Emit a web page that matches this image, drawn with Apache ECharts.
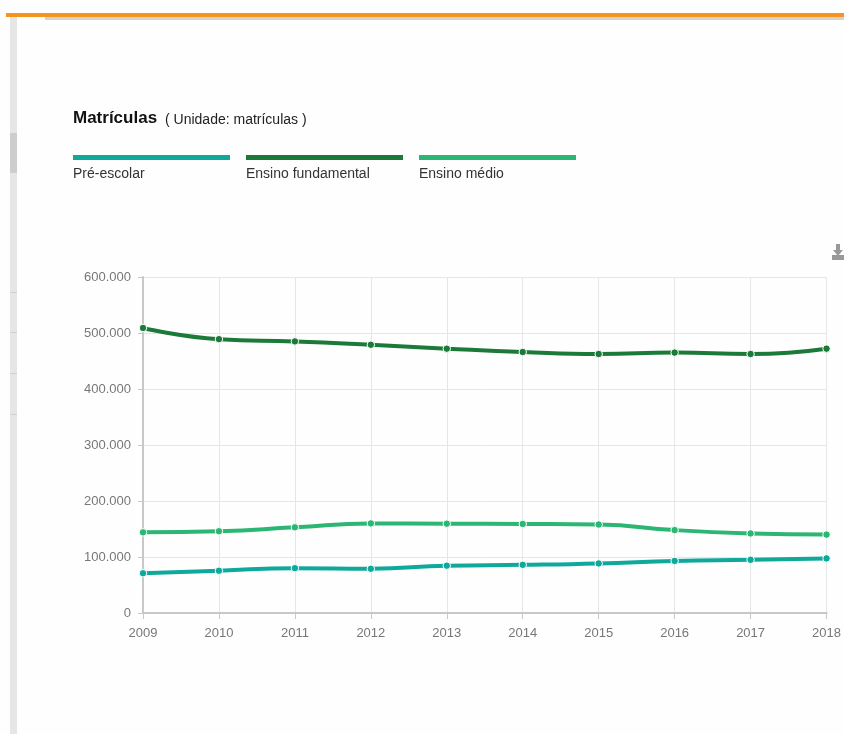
<!DOCTYPE html>
<html>
<head>
<meta charset="utf-8">
<script src="https://cdn.jsdelivr.net/npm/echarts@6/dist/echarts.min.js"></script>
<style>
html,body{margin:0;padding:0;background:#fefefe;}
#c{width:844px;height:734px;}
</style>
</head>
<body>
<div id="c"></div>
<script>
var years = ['2009','2010','2011','2012','2013','2014','2015','2016','2017','2018'];
var seriesNames = ['Pré-escolar','Ensino fundamental','Ensino médio'];
var seriesColors = ['#0fa99c','#1b7a3a','#2cb673'];
var preEscolar = [71000, 75500, 80000, 79000, 84500, 86000, 88500, 93000, 95000, 97500];
var fundamental = [509000, 489000, 485000, 479000, 472000, 466000, 462500, 465000, 462500, 472000];
var medio = [144000, 146000, 153000, 160000, 159500, 159000, 158000, 148000, 142000, 140000];
var titleText = 'Matrículas';
var unitText = '( Unidade: matrículas )';

var dataSets = [preEscolar, fundamental, medio];
var FONT = '"Liberation Sans", Arial, sans-serif';

function fmt(v){ return String(v).replace(/\B(?=(\d{3})+(?!\d))/g, '.'); }

var graphics = [
  {type:'rect', shape:{x:6,y:13,width:838,height:4}, style:{fill:'#f7941d'}, silent:true},
  {type:'rect', shape:{x:45,y:17,width:799,height:3}, style:{fill:'#d3d3d3'}, silent:true},
  {type:'rect', shape:{x:10,y:17,width:7,height:717}, style:{fill:'#e6e6e6'}, silent:true},
  {type:'rect', shape:{x:10,y:133,width:7,height:40}, style:{fill:'#cdcdcd'}, silent:true},
  {type:'rect', shape:{x:10,y:292,width:7,height:1}, style:{fill:'#d0d0d0'}, silent:true},
  {type:'rect', shape:{x:10,y:332,width:7,height:1}, style:{fill:'#d0d0d0'}, silent:true},
  {type:'rect', shape:{x:10,y:373,width:7,height:1}, style:{fill:'#d0d0d0'}, silent:true},
  {type:'rect', shape:{x:10,y:414,width:7,height:1}, style:{fill:'#d0d0d0'}, silent:true},
  {type:'text', left:73, top:110, style:{text:titleText, font:'bold 17px '+FONT, fill:'#111'}},
  {type:'text', left:165, top:113, style:{text:unitText, font:'14px '+FONT, fill:'#222'}},
  // download icon
  {type:'polygon', shape:{points:[[836,244],[840,244],[840,250],[843,250],[838,256],[833,250],[836,250]]}, style:{fill:'#999'}},
  {type:'rect', shape:{x:832,y:255,width:12,height:5}, style:{fill:'#999'}}
];
var legendX = [73, 246, 419];
for (var i = 0; i < seriesNames.length; i++) {
  graphics.push({type:'rect', shape:{x:legendX[i], y:155, width:157, height:5}, style:{fill:seriesColors[i]}});
  graphics.push({type:'text', left:legendX[i], top:167, style:{text:seriesNames[i], font:'14px '+FONT, fill:'#333'}});
}

var series = seriesNames.map(function(n, i){
  return {
    name:n, type:'line', data:dataSets[i], smooth:true,
    symbol:'circle', symbolSize:7.5, showSymbol:true,
    lineStyle:{width:4, color:seriesColors[i]},
    itemStyle:{color:seriesColors[i], borderColor:'#fff', borderWidth:1},
    animation:false
  };
});

var chart = echarts.init(document.getElementById('c'));
chart.setOption({
  backgroundColor:'#fefefe',
  animation:false,
  graphic: graphics,
  grid:{left:143, right:14, top:277, bottom:121, containLabel:false},
  xAxis:{
    type:'category', data:years, boundaryGap:false,
    axisLine:{lineStyle:{color:'#c8c8c8', width:2}},
    axisTick:{show:true, length:6, lineStyle:{color:'#c8c8c8'}},
    axisLabel:{color:'#777', fontSize:13, fontFamily:FONT, margin:14},
    splitLine:{show:true, lineStyle:{color:'#e6e6e6'}}
  },
  yAxis:{
    type:'value', min:0, max:600000, interval:100000,
    axisLine:{show:true, lineStyle:{color:'#c8c8c8', width:2}},
    axisTick:{show:true, length:5, lineStyle:{color:'#c8c8c8'}},
    axisLabel:{color:'#777', fontSize:13, fontFamily:FONT, margin:12, formatter:fmt},
    splitLine:{show:true, lineStyle:{color:'#e6e6e6'}}
  },
  series: series
});
</script>
</body>
</html>
